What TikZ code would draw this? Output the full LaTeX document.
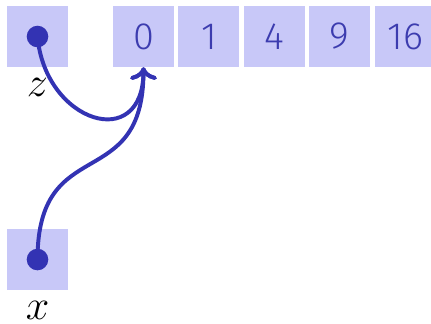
\RequirePackage{fix-cm}
\documentclass[tikz,border=0pt]{standalone}
\usepackage{fontspec}
\setsansfont{Fira Sans Light}
\definecolor{cellfill}{RGB}{200, 200, 248}
\definecolor{ptrblue}{RGB}{51, 51, 179}
\definecolor{numblue}{RGB}{60, 60, 175}
\usetikzlibrary{arrows.meta, positioning}

\begin{document}
\begin{tikzpicture}[
  cell/.style={fill=cellfill, minimum size=1.525cm, inner sep=0pt, font=\sffamily\fontsize{27}{32}\selectfont, text=numblue},
  ptr/.style={draw=ptrblue, line width=2.8pt, -{Computer Modern Rightarrow[length=9pt, width=19pt]}},
  ptrdot/.style={circle, fill=ptrblue, minimum size=0.54cm, inner sep=0pt},
  varname/.style={font=\fontsize{30}{36}\selectfont, inner sep=0pt}
]
  \useasboundingbox (0,0) rectangle (10.775,-8.075);
  % variables and the array
  \node[cell] (zbox) at (0.9375,-0.9125) {};
  \node[cell] (xbox) at (0.9375,-6.4875) {};
  \foreach \v [count=\i from 0] in {0,1,4,9,16}
    \node[cell] (a\i) at (3.5875+1.635*\i,-0.9125) {\v};
  \node[varname, below=7.8pt of zbox] (zname) {$z$};
  \node[varname, below=7.5pt of xbox] (xname) {$x$};
  % pointers
  \node[ptrdot] (zdot) at (zbox.center) {};
  \node[ptrdot] (xdot) at (xbox.center) {};
  \draw[ptr] (zdot.center) to[out=-85, in=-90, looseness=2] (a0.south);
  \draw[ptr] (xdot.center) to[out=90, in=-90, looseness=1.5] (a0.south);
\end{tikzpicture}
\end{document}
